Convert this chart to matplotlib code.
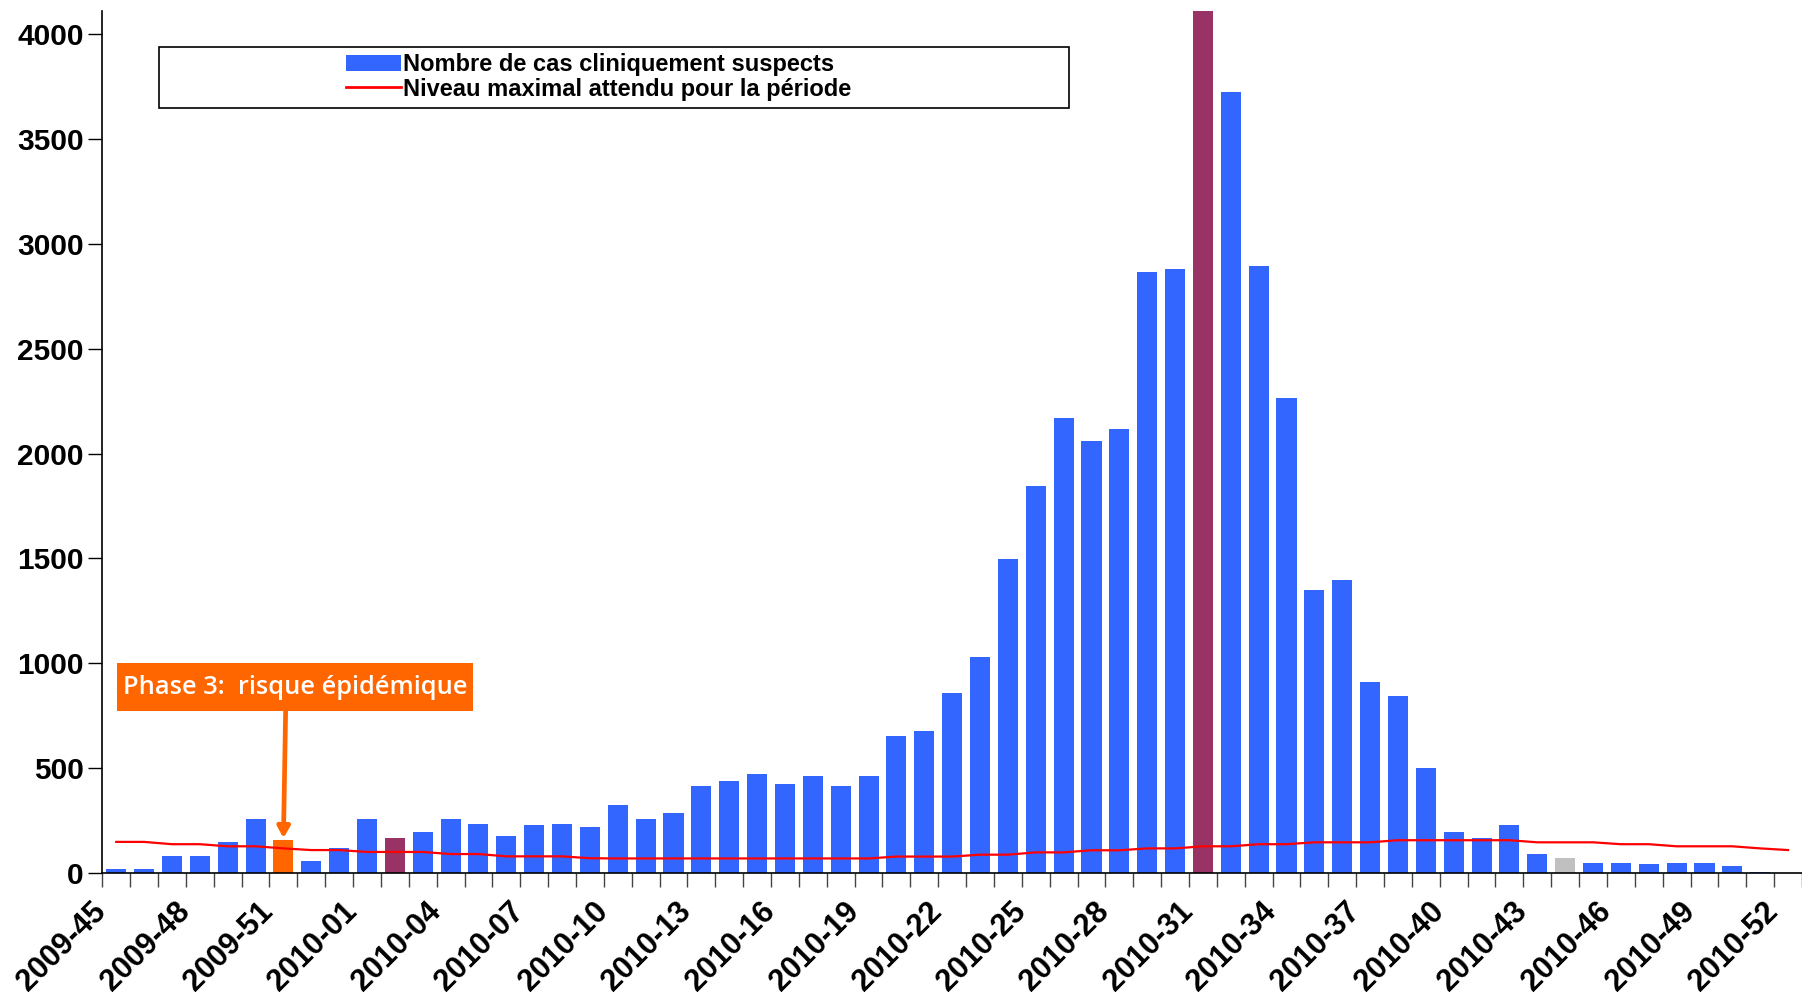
import numpy as np
import matplotlib
matplotlib.use('Agg')
import matplotlib.pyplot as plt
import matplotlib.transforms as mtransforms
from matplotlib.patches import Patch, Rectangle
from matplotlib.lines import Line2D

plt.rcParams['font.family'] = ['Liberation Sans', 'DejaVu Sans']
plt.rcParams['font.weight'] = 'bold'

#%% Data
weeks = ['2009-%02d' % w for w in range(45, 54)] + ['2010-%02d' % w for w in range(1, 53)]

# Nombre de cas cliniquement suspects
cases = [16, 16, 78, 78, 145, 255, 155, 54, 116, 255,
         164, 193, 255, 231, 174, 226, 231, 217, 322, 255,
         284, 413, 437, 470, 423, 461, 413, 461, 652, 676,
         858, 1030, 1496, 1847, 2170, 2060, 2115, 2866, 2882, 4450,
         3726, 2893, 2263, 1348, 1397, 910, 844, 499, 193, 164,
         226, 88, 69, 45, 45, 40, 45, 45, 30, 5,
         0]

# Niveau maximal attendu pour la periode
threshold = [147, 147, 136, 136, 126, 126, 116, 108, 108, 99,
             99, 99, 89, 89, 78, 78, 78, 69, 68, 68,
             68, 68, 68, 68, 68, 68, 68, 68, 77, 77,
             77, 86, 86, 97, 97, 107, 107, 116, 116, 126,
             126, 136, 136, 145, 145, 145, 155, 155, 155, 155,
             155, 145, 145, 145, 136, 136, 126, 126, 126, 116,
             108]

# semaines mises en evidence
orange_weeks = ['2009-51']
purple_weeks = ['2010-02', '2010-31']
grey_weeks = ['2010-44']

blue = '#3366FF'
orange = '#FF6600'
bar_colors = []
for w in weeks:
    if w in orange_weeks:
        bar_colors.append(orange)
    elif w in purple_weeks:
        bar_colors.append('#993366')
    elif w in grey_weeks:
        bar_colors.append('#C0C0C0')
    else:
        bar_colors.append(blue)

#%% Plot
W, H = 1802, 996
fig = plt.figure(figsize=(W/100, H/100), dpi=100)
ax = fig.add_axes([102.3/W, (H-872.7)/H, (W-102.3)/W, (872.7-11)/H])

x = np.arange(len(weeks))
ax.bar(x, cases, width=0.72, color=bar_colors, zorder=2)
ax.plot(x, threshold, color='#FF0000', lw=1.6, zorder=3)

ax.set_xlim(-0.5, 60.2)
ax.set_ylim(0, 4112)

for s in ['top', 'right']:
    ax.spines[s].set_visible(False)
ax.spines['left'].set_linewidth(1.2)
ax.spines['bottom'].set_linewidth(1.2)

ax.set_yticks(np.arange(0, 4001, 500))
ax.tick_params(axis='y', direction='out', length=10, width=1, pad=3.5, labelsize=21.5)

ax.set_xticks(x[::3])
ax.set_xticklabels(weeks[::3], rotation=45, ha='right', va='center',
                   rotation_mode='anchor', fontsize=22)
ax.set_xticks(np.arange(-0.5, len(weeks), 1), minor=True)
ax.tick_params(axis='x', which='major', length=0, pad=24.7)
ax.tick_params(axis='x', which='minor', direction='out', length=10,
               width=1, color='#444444')
offset = mtransforms.ScaledTranslation(-14.4/100, 0, fig.dpi_scale_trans)
for lab in ax.get_xticklabels():
    lab.set_transform(lab.get_transform() + offset)

# legende dans un cadre large
fig.patches.append(Rectangle((158.6/W, 1-108/H), (1068.6-158.6)/W, 61/H,
                             transform=fig.transFigure, fill=False,
                             ec='black', lw=1.2))
handles = [Patch(facecolor=blue), Line2D([], [], color='#FF0000', lw=2)]
labels = ['Nombre de cas cliniquement suspects',
          'Niveau maximal attendu pour la période']
fig.legend(handles, labels, loc='center', bbox_to_anchor=(599/W, 1-77/H),
           frameon=False, fontsize=17, handlelength=2.3, handletextpad=0.12,
           labelspacing=0.05, borderpad=0)

# annotation phase 3
ax.add_patch(Rectangle((0.04, 770), 12.76, 231, fc=orange, ec='none', zorder=5))
ax.text(6.43, 885, 'Phase 3:  risque épidémique', family=['Open Sans', 'DejaVu Sans'],
        fontweight='semibold', fontsize=18.3, color='white', ha='center',
        va='center', zorder=6)
ax.annotate('', xy=(6, 158), xytext=(6.08, 775),
            arrowprops=dict(arrowstyle='-|>,head_width=0.36,head_length=0.65',
                            color=orange, lw=3.4, shrinkA=0, shrinkB=1),
            zorder=4)

plt.savefig('out.png', dpi=100)
